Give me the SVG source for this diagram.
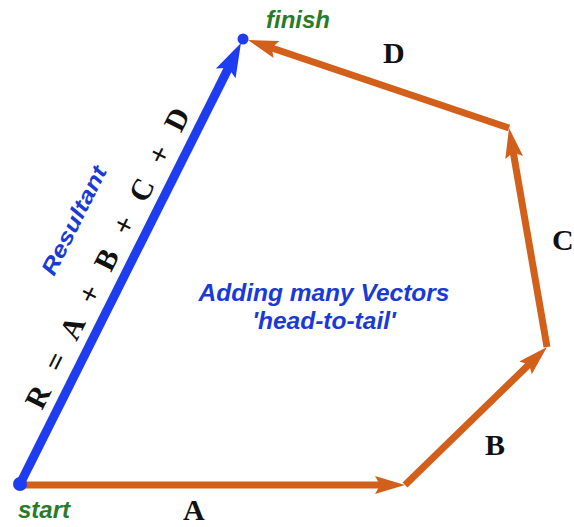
<svg xmlns="http://www.w3.org/2000/svg" width="574" height="527" viewBox="0 0 574 527">
  <defs>
    <marker id="headOrange" markerUnits="userSpaceOnUse" viewBox="0 -10 32 20" markerWidth="32" markerHeight="20" refX="12" refY="0" orient="auto" overflow="visible">
      <path d="M30,0 L0,-9 L5,0 L0,9 Z" fill="#D2601A"/>
    </marker>
    <marker id="headBlue" markerUnits="userSpaceOnUse" viewBox="0 -12 36 24" markerWidth="36" markerHeight="24" refX="14" refY="0" orient="auto" overflow="visible">
      <path d="M34,0 L0,-11 L6,0 L0,11 Z" fill="#1E3CF0"/>
    </marker>
  </defs>
  <style>
    .vec { stroke: #D2601A; stroke-width: 7; fill: none; marker-end: url(#headOrange); }
    .res { stroke: #1E3CF0; stroke-width: 9; fill: none; marker-end: url(#headBlue); }
    .lbl { font-family: "Liberation Serif", "Times New Roman", serif; font-weight: bold; font-size: 30px; fill: #111; }
    .pt { font-family: "Liberation Sans", Arial, sans-serif; font-weight: bold; font-style: italic; fill: #2A7A2A; }
    .blue { font-family: "Liberation Sans", Arial, sans-serif; font-weight: bold; font-style: italic; fill: #1A3AD8; }
  </style>
  <rect width="574" height="527" fill="#ffffff"/>

  <g id="connectors">
    <line id="vecA" class="vec" x1="22" y1="485" x2="387" y2="485"/>
    <line id="vecB" class="vec" x1="405" y1="485" x2="534.1" y2="359.5"/>
    <line id="vecC" class="vec" x1="547" y1="347" x2="512.1" y2="145.7"/>
    <line id="vecD" class="vec" x1="509" y1="128" x2="265.1" y2="45.75"/>
    <line id="resultant" class="res" x1="20" y1="484" x2="232" y2="60.9"/>
  </g>

  <g id="start">
    <circle cx="20" cy="484" r="7" fill="#1E3CF0"/>
    <text class="pt" x="18" y="518" font-size="24">start</text>
  </g>
  <g id="finish">
    <circle cx="243" cy="39" r="5.5" fill="#1E3CF0"/>
    <text class="pt" x="266" y="28" font-size="24">finish</text>
  </g>

  <g id="labels">
    <text class="lbl" x="183" y="520" font-size="29">A</text>
    <text class="lbl" x="485" y="455">B</text>
    <text class="lbl" x="552" y="250">C</text>
    <text class="lbl" x="383" y="63">D</text>
    <text class="blue" font-size="22" transform="translate(54,277) rotate(-63.4)" textLength="119" lengthAdjust="spacingAndGlyphs">Resultant</text>
    <text class="lbl" font-size="34" transform="translate(42,411) rotate(-63.4)" textLength="332" lengthAdjust="spacing">R = A + B + C + D</text>
  </g>

  <g id="caption">
    <text class="blue" font-size="24.5" x="324" y="301" text-anchor="middle">Adding many Vectors</text>
    <text class="blue" font-size="24.5" x="324" y="329" text-anchor="middle">'head-to-tail'</text>
  </g>
</svg>
